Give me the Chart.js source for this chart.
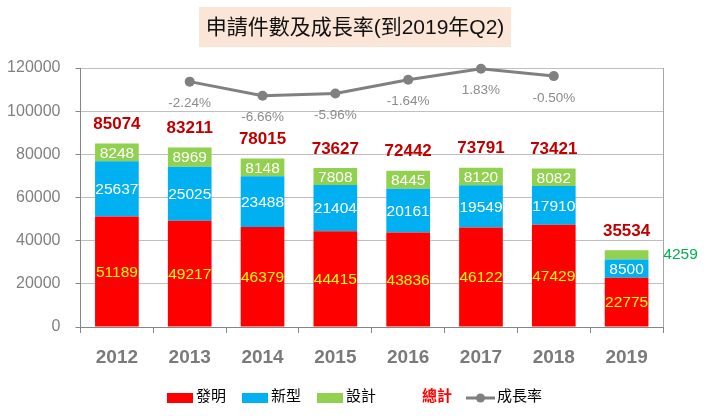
<!DOCTYPE html>
<html><head><meta charset="utf-8">
<script src="https://cdn.jsdelivr.net/npm/chart.js@4.4.0/dist/chart.umd.min.js"></script>
<style>html,body{margin:0;padding:0;background:#fff}#wrap{width:709px;height:416px;position:relative}</style>
</head><body><div id="wrap"><canvas id="c" width="709" height="416"></canvas></div>
<script>
const categories = ['2012','2013','2014','2015','2016','2017','2018','2019'];
const invention = [51189,49217,46379,44415,43836,46122,47429,22775];
const utility = [25637,25025,23488,21404,20161,19549,17910,8500];
const design = [8248,8969,8148,7808,8445,8120,8082,4259];
const totals = [85074,83211,78015,73627,72442,73791,73421,35534];
const growth = [null,-2.24,-6.66,-5.96,-1.64,1.83,-0.50,null];
const growthLabels = ['','-2.24%','-6.66%','-5.96%','-1.64%','1.83%','-0.50%',''];
const titleText = '申請件數及成長率(到2019年Q2)';
const legendNames = ['發明','新型','設計','總計','成長率'];

const FONT = "'Liberation Sans', Arial, 'Noto Sans CJK TC', sans-serif";
const CJK = "'Noto Sans CJK TC', 'Liberation Sans', sans-serif";

const overlay = {
  id: 'overlay',
  afterDatasetsDraw(chart) {
    const ctx = chart.ctx;
    const ca = chart.chartArea;
    const ys = chart.scales.y;
    ctx.save();
    // right border
    ctx.strokeStyle = '#a6a6a6';
    ctx.lineWidth = 1;
    ctx.beginPath();
    ctx.moveTo(Math.round(ca.right) + 0.5, ca.top);
    ctx.lineTo(Math.round(ca.right) + 0.5, ca.bottom);
    ctx.stroke();

    ctx.textAlign = 'center';
    ctx.textBaseline = 'middle';
    // segment labels
    const colors = ['#ffff00', '#ffffff', '#ffffff'];
    [0, 1, 2].forEach(di => {
      const meta = chart.getDatasetMeta(di);
      const vals = chart.data.datasets[di].data;
      meta.data.forEach((bar, i) => {
        const h = Math.abs(bar.base - bar.y);
        const cy = (bar.y + bar.base) / 2;
        ctx.font = '15.5px ' + FONT;
        if (h < 14) {
          ctx.fillStyle = '#00b050';
          ctx.fillText(String(vals[i]), bar.x + 54, cy);
        } else {
          ctx.fillStyle = colors[di];
          ctx.fillText(String(vals[i]), bar.x, cy + 1);
        }
      });
    });
    // totals
    const meta0 = chart.getDatasetMeta(0);
    ctx.font = 'bold 17px ' + FONT;
    ctx.fillStyle = '#c00000';
    totals.forEach((t, i) => {
      ctx.fillText(String(t), meta0.data[i].x, ys.getPixelForValue(t) - 19);
    });
    // growth labels
    const lm = chart.getDatasetMeta(3);
    ctx.font = '13.5px ' + FONT;
    ctx.fillStyle = '#8c8c8c';
    lm.data.forEach((p, i) => {
      if (growth[i] === null) return;
      ctx.fillText(growthLabels[i], p.x, p.y + 22);
    });

    // title
    ctx.fillStyle = '#fbe5d6';
    ctx.fillRect(199, 7, 312, 40);
    ctx.fillStyle = '#111111';
    ctx.font = '21px ' + FONT;
    ctx.fillText(titleText, 355, 28.5);

    // legend
    const ly = 395;
    ctx.textAlign = 'left';
    ctx.font = '15px ' + CJK;
    const sw = [['#ff0000', 167, 196], ['#00b0f0', 242, 271], ['#92d050', 317, 346]];
    sw.forEach((s, k) => {
      ctx.fillStyle = s[0];
      ctx.fillRect(s[1], 393, 26, 10);
      ctx.fillStyle = '#000000';
      ctx.fillText(legendNames[k], s[2], ly);
    });
    ctx.fillStyle = '#ff0000';
    ctx.font = 'bold 15px ' + CJK;
    ctx.fillText(legendNames[3], 422, ly);
    ctx.strokeStyle = '#808080';
    ctx.lineWidth = 3;
    ctx.beginPath();
    ctx.moveTo(466, 398);
    ctx.lineTo(495, 398);
    ctx.stroke();
    ctx.fillStyle = '#808080';
    ctx.beginPath();
    ctx.arc(480.5, 398, 4.5, 0, Math.PI * 2);
    ctx.fill();
    ctx.fillStyle = '#000000';
    ctx.font = '15px ' + CJK;
    ctx.fillText(legendNames[4], 497, ly);
    ctx.restore();
  }
};

new Chart(document.getElementById('c'), {
  data: {
    labels: categories,
    datasets: [
      { type: 'bar', label: legendNames[0], data: invention, backgroundColor: '#ff0000', stack: 's', order: 1 },
      { type: 'bar', label: legendNames[1], data: utility, backgroundColor: '#00b0f0', stack: 's', order: 1 },
      { type: 'bar', label: legendNames[2], data: design, backgroundColor: '#92d050', stack: 's', order: 1 },
      { type: 'line', label: legendNames[4], data: growth, yAxisID: 'y1', borderColor: '#808080', backgroundColor: '#808080',
        borderWidth: 3, pointRadius: 5, pointBackgroundColor: '#808080', pointBorderWidth: 0, spanGaps: false, order: 0, clip: false }
    ]
  },
  options: {
    responsive: false,
    animation: false,
    events: [],
    layout: { padding: { top: 68, right: 46, left: 0, bottom: 0 } },
    plugins: { legend: { display: false }, title: { display: false }, tooltip: { enabled: false } },
    datasets: { bar: { categoryPercentage: 1, barPercentage: 0.6 } },
    scales: {
      x: {
        stacked: true,
        grid: { offset: true, drawOnChartArea: false, tickLength: 6, tickColor: '#868686' },
        border: { color: '#868686' },
        ticks: { font: { size: 19, family: FONT, weight: 'bold' }, color: '#7a7a7a', padding: 13 },
        afterFit(s) { s.height = 89; }
      },
      y: {
        stacked: true, min: 0, max: 120000,
        ticks: { stepSize: 20000, font: { size: 16, family: FONT }, color: '#808080', padding: 15,
          callback: v => String(v) },
        grid: { color: '#bfbfbf', tickColor: '#868686', tickLength: 5 },
        border: { color: '#868686' },
        afterFit(s) { s.width = 80.5; }
      },
      y1: { display: false, min: -79.4, max: 2.05 }
    }
  },
  plugins: [overlay]
});
</script></body></html>
